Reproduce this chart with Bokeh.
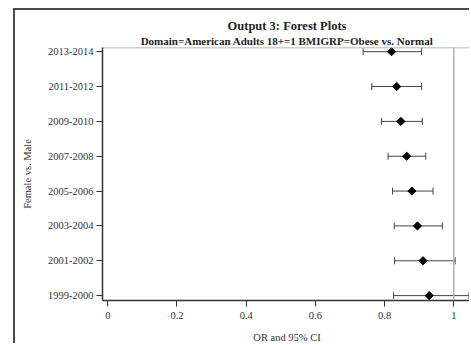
from bokeh.plotting import figure
from bokeh.models import (ColumnDataSource, Whisker, TeeHead, Span, Title, FixedTicker)
from bokeh.embed import file_html
from bokeh.resources import INLINE
import numpy as np

periods = ["1999-2000", "2001-2002", "2003-2004", "2005-2006",
           "2007-2008", "2009-2010", "2011-2012", "2013-2014"]
odds_ratio = [0.929, 0.911, 0.895, 0.879, 0.864, 0.847, 0.835, 0.820]
ci_low = [0.826, 0.829, 0.828, 0.823, 0.810, 0.791, 0.763, 0.738]
ci_high = [1.044, 1.004, 0.967, 0.940, 0.919, 0.909, 0.907, 0.907]
x_ticks = [0, 0.2, 0.4, 0.6, 0.8, 1]
x_tick_labels = ["0", "0.2", "0.4", "0.6", "0.8", "1"]

SERIF = "Liberation Serif"
DARK = "#333333"

ypos = list(range(len(periods)))
src = ColumnDataSource(dict(y=ypos, orv=odds_ratio, lo=ci_low, hi=ci_high))

p = figure(width=456, height=335, output_backend="svg", toolbar_location=None,
           x_range=(-0.0153, 1.0512), y_range=(-0.14, 7.12),
           min_border_left=87, min_border_right=0, min_border_top=37, min_border_bottom=44,
           margin=(8, 0, 0, 13),
           styles={"border-left": "2px solid #4a4a4a", "border-top": "2px solid #4a4a4a"})
p.outline_line_color = None
p.grid.visible = False
p.background_fill_color = "white"
p.border_fill_color = "white"

# titles
sub = Title(text="Domain=American Adults 18+=1 BMIGRP=Obese vs. Normal", align="center",
            text_font=SERIF, text_font_size="11px", text_font_style="bold",
            text_color="#222222", standoff=1)
p.add_layout(sub, "above")
main = Title(text="Output 3: Forest Plots", align="center",
             text_font=SERIF, text_font_size="12.5px", text_font_style="bold",
             text_color="#222222", standoff=0)
p.add_layout(main, "above")

# reference line at OR = 1 and top border
p.add_layout(Span(location=1, dimension="height", line_color="#b0b0b0", line_width=1.5))
p.add_layout(Span(location=7.12, dimension="width", line_color="#a0a0a0", line_width=1.5))

w = Whisker(source=src, base="y", lower="lo", upper="hi", dimension="width",
            line_color="#444444", line_width=1,
            lower_head=TeeHead(size=7, line_color="#444444", line_width=1),
            upper_head=TeeHead(size=7, line_color="#444444", line_width=1))
p.add_layout(w)
p.scatter(x="orv", y="y", source=src, marker="square", angle=np.pi / 4,
          size=5.8, color="black")

# axes
p.xaxis.ticker = FixedTicker(ticks=x_ticks)
p.xaxis.major_label_overrides = {t: l for t, l in zip(x_ticks, x_tick_labels)}
p.yaxis.ticker = FixedTicker(ticks=ypos)
p.yaxis.major_label_overrides = {i: s for i, s in zip(ypos, periods)}
p.xaxis.axis_label = "OR and 95% CI"
p.yaxis.axis_label = "Female vs. Male"
for ax in (p.xaxis, p.yaxis):
    ax.axis_line_color = DARK
    ax.axis_line_width = 1.5
    ax.major_tick_line_color = DARK
    ax.major_tick_in = 0
    ax.major_tick_out = 6
    ax.minor_tick_line_color = None
    ax.major_label_text_font = SERIF
    ax.major_label_text_font_size = "10.5px"
    ax.major_label_text_color = DARK
    ax.axis_label_text_font = SERIF
    ax.axis_label_text_font_size = "10.5px"
    ax.axis_label_text_font_style = "normal"
    ax.axis_label_text_color = DARK
p.xaxis.major_label_standoff = 5
p.xaxis.axis_label_standoff = 10
p.yaxis.major_label_standoff = 3
p.yaxis.axis_label_standoff = 12

open("out.html", "w").write(file_html(p, INLINE))
